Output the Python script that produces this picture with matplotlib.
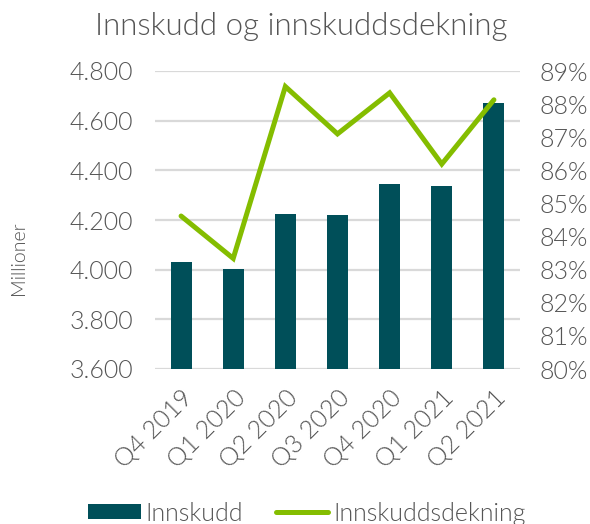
import matplotlib

matplotlib.use("Agg")
import matplotlib.pyplot as plt
from matplotlib.ticker import FuncFormatter

quarters = ["Q4 2019", "Q1 2020", "Q2 2020", "Q3 2020", "Q4 2020", "Q1 2021", "Q2 2021"]
innskudd = [4029, 4002, 4224, 4220, 4344, 4335, 4670]          # millioner
dekning = [84.62, 83.34, 88.53, 87.10, 88.34, 86.19, 88.13]    # prosent

BAR = "#004F59"
LINE = "#84BD00"
TXT = "#555555"
GRID = "#D9D9D9"

plt.rcParams.update({"font.family": ["Lato", "DejaVu Sans"], "font.weight": 300,
                     "text.color": TXT, "axes.labelcolor": TXT,
                     "xtick.color": TXT, "ytick.color": TXT})

fig = plt.figure(figsize=(5.9, 5.24), dpi=100)
ax = fig.add_axes([155 / 590, 1 - 369 / 524, 365 / 590, 298 / 524])
x = list(range(len(quarters)))
bars = ax.bar(x, innskudd, width=0.4, color=BAR, zorder=2, label="Innskudd")
ax.set_ylim(3600, 4800)
ax.set_yticks(range(3600, 4801, 200))
ax.yaxis.set_major_formatter(FuncFormatter(lambda v, _: f"{int(v):,}".replace(",", ".")))
ax.set_xlim(-0.5, 6.5)
ax.set_xticks(x)
ax.set_xticklabels(quarters, rotation=45, ha="right", rotation_mode="anchor", fontsize=17)
ax.grid(axis="y", color=GRID, lw=1.6, zorder=0)
ax.tick_params(length=0, labelsize=18, pad=16)
ax.tick_params(axis="x", pad=12)
for s in ax.spines.values():
    s.set_visible(False)

ax2 = ax.twinx()
line, = ax2.plot(x, dekning, color=LINE, lw=3.6, solid_joinstyle="miter",
                 solid_capstyle="round", zorder=3, label="Innskuddsdekning")
ax2.set_ylim(80, 89)
ax2.set_yticks(range(80, 90))
ax2.yaxis.set_major_formatter(FuncFormatter(lambda v, _: f"{int(v)}%"))
ax2.tick_params(length=0, labelsize=18, pad=14)
for s in ax2.spines.values():
    s.set_visible(False)

fig.text(18 / 590, 1 - 258 / 524, "Millioner", rotation=90, ha="center", va="center",
         fontsize=14, color=TXT)
fig.text(0.51, 0.95, "Innskudd og innskuddsdekning", ha="center", va="center",
         fontsize=22.5, color=TXT)
fig.legend([bars, line], ["Innskudd", "Innskuddsdekning"], loc="center",
           bbox_to_anchor=(0.52, 0.02), ncol=2, frameon=False, fontsize=18,
           handlelength=2.1, handleheight=0.55, handletextpad=0.2, columnspacing=1.3)

fig.savefig("out.png", dpi=100)
